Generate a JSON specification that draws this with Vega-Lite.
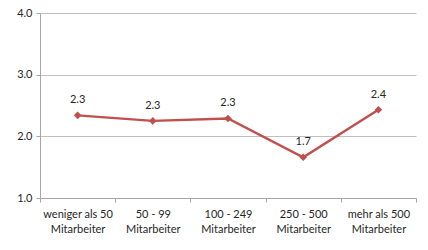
{
  "$schema": "https://vega.github.io/schema/vega-lite/v6.json",
  "width": 376,
  "height": 185,
  "autosize": {"type": "none"},
  "padding": {"left": 40, "top": 13, "right": 12, "bottom": 52},
  "background": "white",
  "config": {
    "view": {"stroke": null},
    "font": "Lato",
    "axis": {"labelFont": "Lato", "labelColor": "#262626", "labelFontSize": 11}
  },
  "data": {
    "values": [
      {"kategorie": "weniger als 50|Mitarbeiter", "wert": 2.34},
      {"kategorie": "50 - 99|Mitarbeiter", "wert": 2.25},
      {"kategorie": "100 - 249|Mitarbeiter", "wert": 2.29},
      {"kategorie": "250 - 500|Mitarbeiter", "wert": 1.66},
      {"kategorie": "mehr als 500|Mitarbeiter", "wert": 2.43}
    ]
  },
  "encoding": {
    "x": {
      "field": "kategorie",
      "type": "nominal",
      "sort": null,
      "scale": {"paddingInner": 0, "paddingOuter": 0},
      "axis": {
        "title": null,
        "labelAngle": 0,
        "labelExpr": "split(datum.label, '|')",
        "labelLineHeight": 15,
        "labelPadding": 6,
        "domainColor": "#a6a6a6",
        "tickColor": "#a6a6a6",
        "tickSize": 4,
        "tickBand": "extent",
        "labelBaseline": "top"
      }
    },
    "y": {
      "field": "wert",
      "type": "quantitative",
      "scale": {"domain": [1, 4], "nice": false, "zero": false},
      "axis": {
        "title": null,
        "values": [1, 2, 3, 4],
        "format": ".1f",
        "gridColor": "#bfbfbf",
        "domainColor": "#a6a6a6",
        "tickColor": "#a6a6a6",
        "tickSize": 4,
        "labelPadding": 4
      }
    }
  },
  "layer": [
    {
      "mark": {"type": "line", "color": "#C0504D", "strokeWidth": 2.4}
    },
    {
      "mark": {"type": "point", "shape": "diamond", "filled": true, "color": "#C0504D", "size": 58, "opacity": 1}
    },
    {
      "mark": {"type": "text", "dy": -15, "fontSize": 11, "color": "#262626", "font": "Lato"},
      "encoding": {"text": {"field": "wert", "type": "quantitative", "format": ".1f"}}
    }
  ]
}
